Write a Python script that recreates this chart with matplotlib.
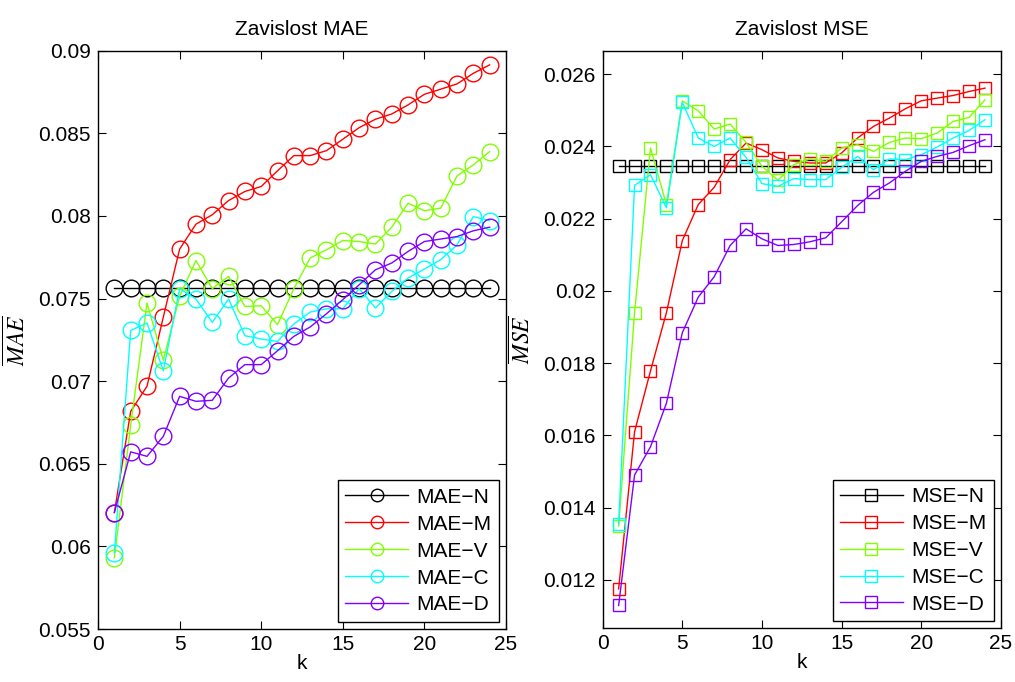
import numpy as np
import matplotlib
matplotlib.use("Agg")
import matplotlib.pyplot as plt

plt.rcParams['font.family'] = ['Liberation Sans', 'DejaVu Sans']
plt.rcParams['mathtext.fontset'] = 'stix'

k = list(range(1, 25))

# MAE values
mae_n = [0.07563] * 24
mae_m = [0.06205, 0.06817, 0.06969, 0.07388, 0.07799, 0.0795, 0.08007, 0.08093,
         0.08148, 0.08178, 0.08273, 0.08365, 0.08365, 0.08395, 0.08464, 0.08534,
         0.08585, 0.08617, 0.08672, 0.08736, 0.08767, 0.08799, 0.08863, 0.08914]
mae_v = [0.05931, 0.06733, 0.07473, 0.07126, 0.07513, 0.0773, 0.0756, 0.07634,
         0.07452, 0.07456, 0.07342, 0.0756, 0.07745, 0.07795, 0.07851, 0.07845,
         0.0783, 0.07932, 0.08077, 0.08031, 0.08047, 0.08242, 0.08309, 0.08389]
mae_c = [0.05961, 0.07307, 0.07352, 0.07063, 0.0756, 0.07497, 0.07356, 0.07497,
         0.07275, 0.07255, 0.0724, 0.07346, 0.07418, 0.07438, 0.07438, 0.0756,
         0.07443, 0.07543, 0.07624, 0.07678, 0.07735, 0.07825, 0.07996, 0.07972]
mae_d = [0.06205, 0.06572, 0.06545, 0.06666, 0.06908, 0.06878, 0.06884, 0.07019,
         0.071, 0.071, 0.07184, 0.07271, 0.07328, 0.07408, 0.07493, 0.07583,
         0.07674, 0.07715, 0.07785, 0.07845, 0.0786, 0.07875, 0.0791, 0.07932]

# MSE values
mse_n = [0.02345] * 24
mse_m = [0.01175, 0.0161, 0.017785, 0.019398, 0.021395, 0.02239, 0.022868, 0.023633,
         0.024094, 0.023909, 0.02368, 0.023586, 0.023541, 0.023541, 0.023818, 0.024232,
         0.024553, 0.024785, 0.025041, 0.025262, 0.025337, 0.025409, 0.02552, 0.025613]
mse_v = [0.013486, 0.019398, 0.023956, 0.02239, 0.025262, 0.024986, 0.024481, 0.024619,
         0.02411, 0.02345, 0.023061, 0.023495, 0.023652, 0.023586, 0.023956, 0.024047,
         0.023862, 0.02411, 0.024232, 0.024213, 0.02437, 0.024691, 0.024801, 0.02529]
mse_c = [0.01355, 0.022923, 0.023218, 0.022298, 0.025216, 0.024232, 0.024, 0.024232,
         0.023696, 0.02297, 0.022895, 0.023108, 0.02308, 0.02308, 0.02342, 0.023724,
         0.023356, 0.023652, 0.023633, 0.023771, 0.023983, 0.024232, 0.024442, 0.024738]
mse_d = [0.011293, 0.014903, 0.015685, 0.016892, 0.018845, 0.019829, 0.020392, 0.021257,
         0.021718, 0.021442, 0.021257, 0.021285, 0.021359, 0.02147, 0.021912, 0.022362,
         0.022729, 0.022989, 0.023309, 0.023586, 0.023724, 0.023834, 0.024019, 0.024185]

colors = ['black', '#ff0000', '#80ff00', '#00ffff', '#8000ff']
suffix = ['N', 'M', 'V', 'C', 'D']

fig = plt.figure(figsize=(10.15, 6.82), dpi=100)
ax1 = fig.add_axes([0.0966, 0.0777, 0.4019, 0.848])
ax2 = fig.add_axes([0.5938, 0.0787, 0.3923, 0.847])

for s, c, y in zip(suffix, colors, [mae_n, mae_m, mae_v, mae_c, mae_d]):
    ax1.plot(k, y, '-o', color=c, mfc='none', mec=c, ms=12, lw=1, label='MAE\u2212' + s)
for s, c, y in zip(suffix, colors, [mse_n, mse_m, mse_v, mse_c, mse_d]):
    ax2.plot(k, y, '-s', color=c, mfc='none', mec=c, ms=9, lw=1, label='MSE\u2212' + s)

ax1.set_xlim(0, 25)
ax1.set_ylim(0.055, 0.09)
ax1.set_yticks(np.arange(0.055, 0.0901, 0.005))
ax1.set_yticklabels(['0.055', '0.06', '0.065', '0.07', '0.075', '0.08', '0.085', '0.09'])
ax1.set_title('Zavislost MAE', fontsize=15, pad=11)
ax1.set_ylabel(r'$\overline{MAE}$', fontsize=17, labelpad=6)

ax2.set_xlim(0, 25)
ax2.set_ylim(0.01066, 0.02665)
ax2.set_yticks(np.arange(0.012, 0.0261, 0.002))
ax2.set_yticklabels(['0.012', '0.014', '0.016', '0.018', '0.02', '0.022', '0.024', '0.026'])
ax2.set_title('Zavislost MSE', fontsize=15, pad=11)
ax2.set_ylabel(r'$\overline{MSE}$', fontsize=17, labelpad=6)

for ax, mscale in ((ax1, 0.75), (ax2, 1.0)):
    ax.set_xticks([0, 5, 10, 15, 20, 25])
    ax.set_xlabel('k', fontsize=15, labelpad=0)
    ax.tick_params(direction='in', top=True, right=True, labelsize=15, length=6, width=0.8)
    ax.tick_params(axis='x', pad=4)
    ax.tick_params(axis='y', pad=5)
    for sp in ax.spines.values():
        sp.set_linewidth(1)
    leg = ax.legend(loc='lower right', fontsize=15, numpoints=1, handlelength=3.0,
                    handletextpad=0.4, markerscale=mscale, fancybox=False, framealpha=1,
                    edgecolor='black', borderpad=0.35, labelspacing=0.38, borderaxespad=0.35)
    leg.get_frame().set_linewidth(1)

fig.savefig('out.png', dpi=100)
